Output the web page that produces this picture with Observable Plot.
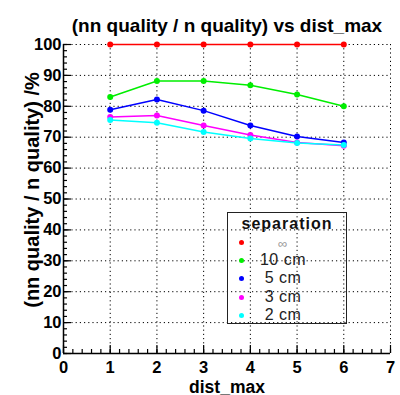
<!DOCTYPE html>
<html><head><meta charset="utf-8">
<script src="https://cdn.jsdelivr.net/npm/d3@7"></script>
<script src="https://cdn.jsdelivr.net/npm/@observablehq/plot@0.6"></script>
<style>
body{margin:0;background:#fff;}
#wrap{position:relative;width:400px;height:395px;font-family:"Liberation Sans",Arial,sans-serif;}
#legend{position:absolute;left:227px;top:212px;width:118px;height:110px;border:1.5px solid #222;box-sizing:content-box;}
#legend .t{position:absolute;left:0;right:0;top:2px;font-weight:bold;font-size:16px;line-height:18px;letter-spacing:1px;text-align:center;color:#111;}
#legend .r{position:absolute;left:0;right:0;height:18px;font-size:16px;line-height:18px;}
#legend .m{position:absolute;left:11px;top:7px;width:5px;height:5px;border-radius:50%;}
#legend .l{position:absolute;left:10px;width:90px;text-align:center;top:0px;color:#222;letter-spacing:0.5px;}
</style></head>
<body><div id="wrap"></div>
<script>
const distMax = [1, 2, 3, 4, 5, 6];
const sepLabels = ["∞", "10 cm", "5 cm", "3 cm", "2 cm"];
const sepColors = ["#ff0000", "#00ee00", "#0000ff", "#ff00ff", "#00ffff"];
const sepInf = [100, 100, 100, 100, 100, 100];
const sep10 = [83.0, 88.2, 88.2, 86.8, 83.8, 80.0];
const sep5 = [78.9, 82.2, 78.6, 73.8, 70.2, 68.3];
const sep3 = [76.5, 77.0, 73.8, 70.7, 68.3, 67.2];
const sep2 = [75.6, 74.7, 71.7, 69.6, 68.1, 67.5];
const xMajor = [0, 1, 2, 3, 4, 5, 6, 7];
const yMajor = [0, 10, 20, 30, 40, 50, 60, 70, 80, 90, 100];
const titleText = "(nn quality / n quality) vs dist_max";
const xLabel = "dist_max";
const yLabel = "(nn quality / n quality) /%";

const seriesVals = [sepInf, sep10, sep5, sep3, sep2];
const data = [];
seriesVals.forEach((vals, s) => vals.forEach((v, i) => data.push({x: distMax[i], y: v, s: sepLabels[s]})));

const W = 400, H = 395, ML = 63, MR = 10, MT = 44, MB = 42;
const PW = W - ML - MR, PH = H - MT - MB;
const xMinor = d3.range(0, 7.001, 0.2).map(d => +d.toFixed(1));
const yMinor = d3.range(0, 101, 2);

const chart = Plot.plot({
  width: W, height: H,
  marginLeft: ML, marginRight: MR, marginTop: MT, marginBottom: MB,
  style: {fontFamily: "'Liberation Sans', Arial, sans-serif", background: "white"},
  x: {domain: [0, 7]},
  y: {domain: [0, 100]},
  color: {domain: sepLabels, range: sepColors},
  marks: [
    Plot.gridX(xMajor.slice(1), {stroke: "black", strokeOpacity: 1, strokeWidth: 1, strokeDasharray: "1.2,3"}),
    Plot.gridY(yMajor.slice(1), {stroke: "black", strokeOpacity: 1, strokeWidth: 1, strokeDasharray: "1.2,3"}),
    Plot.tickY(yMinor, {y: d => d, insetRight: PW - 4, stroke: "black", strokeWidth: 1.2}),
    Plot.tickY(yMajor, {y: d => d, insetRight: PW - 8, stroke: "black", strokeWidth: 1.2}),
    Plot.tickX(xMinor, {x: d => d, insetTop: PH - 4, stroke: "black", strokeWidth: 1.2}),
    Plot.tickX(xMajor, {x: d => d, insetTop: PH - 8, stroke: "black", strokeWidth: 1.2}),
    Plot.ruleX([0], {stroke: "black", strokeWidth: 1.5}),
    Plot.ruleY([0], {stroke: "black", strokeWidth: 1.5}),
    Plot.axisY(yMajor, {tickSize: 0, tickPadding: 2, fontSize: 16.5, fontWeight: "bold", fill: "black", label: null}),
    Plot.axisX(xMajor, {tickSize: 0, tickPadding: 8, fontSize: 16.5, fontWeight: "bold", fill: "black", label: null}),
    Plot.line(data, {x: "x", y: "y", z: "s", stroke: "s", strokeWidth: 1.5}),
    Plot.dot(data, {x: "x", y: "y", fill: "s", r: 3, stroke: "none"}),
    Plot.text([titleText], {frameAnchor: "top", dy: -13, fontSize: 19, fontWeight: "bold", fill: "black", lineAnchor: "bottom"}),
    Plot.text([xLabel], {frameAnchor: "bottom", dy: 39, fontSize: 17.5, fontWeight: "bold", fill: "black", lineAnchor: "bottom"}),
    Plot.text([yLabel], {frameAnchor: "left", dx: -31, dy: -9, rotate: -90, textAnchor: "middle", fontSize: 20, fontWeight: "bold", fill: "black"})
  ]
});

const wrap = document.getElementById("wrap");
wrap.appendChild(chart);
const lg = document.createElement("div");
lg.id = "legend";
let html = '<div class="t">separation</div>';
const rowTops = [20, 37.5, 56, 74.5, 93];
sepLabels.forEach((l, i) => {
  html += `<div class="r" style="top:${rowTops[i]}px"><span class="m" style="background:${sepColors[i]}"></span><span class="l"${i === 0 ? ' style="color:#999;font-size:13px;top:2px"' : ''}>${l}</span></div>`;
});
lg.innerHTML = html;
wrap.appendChild(lg);
</script></body></html>
